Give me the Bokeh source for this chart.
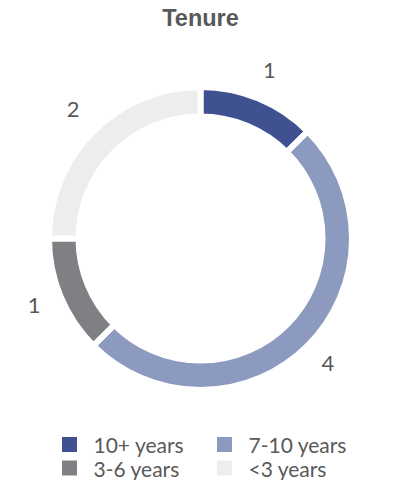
import math
from bokeh.plotting import figure
from bokeh.models import Range1d, ColumnDataSource
from bokeh.core.properties import value
from bokeh.embed import file_html
from bokeh.resources import INLINE

categories = ["10+ years", "7-10 years", "3-6 years", "<3 years"]
counts = [1, 4, 1, 2]
colors = ["#3F5190", "#8D9ABF", "#7F8083", "#EDEDED"]
title_text = "Tenure"

W, H = 402, 480
cx, cy = 200, 242
r_in, r_out, gap = 125, 148.5, 6
label_r = 180
grey = "#595959"
font = value("Lato")

total = sum(counts)
starts, ends, mids = [], [], []
acc = 0
for c in counts:
    a0 = math.pi / 2 - 2 * math.pi * (acc + c) / total
    a1 = math.pi / 2 - 2 * math.pi * acc / total
    starts.append(a0)
    ends.append(a1)
    mids.append((a0 + a1) / 2)
    acc += c

src = ColumnDataSource(dict(
    start=starts, end=ends, color=colors, cat=categories,
    lx=[cx + label_r * math.cos(m) for m in mids],
    ly=[cy + 2 + label_r * math.sin(m) for m in mids],
    lab=[str(c) for c in counts],
))

p = figure(width=W, height=H, output_backend="svg", toolbar_location=None,
           x_range=Range1d(0, W), y_range=Range1d(0, H),
           x_axis_location=None, y_axis_location=None, min_border=0)
p.grid.visible = False
p.outline_line_color = None
p.background_fill_color = "white"

p.annular_wedge(x=cx, y=cy, inner_radius=r_in - gap / 2, outer_radius=r_out + gap / 2,
                start_angle="start", end_angle="end", fill_color="color",
                line_color="white", line_width=gap, source=src)

p.text(x="lx", y="ly", text="lab", source=src, text_font=font,
       text_font_size="22px", text_color=grey, text_align="center",
       text_baseline="middle")

p.text(x=[200], y=[463], text=[title_text], text_font=value("Liberation Sans"),
       text_font_size="23.5px", text_font_style="bold", text_color=grey,
       text_align="center", text_baseline="middle")

# legend (two columns)
col_x = [69, 224]
row_y = [36, 12.5]
lg = ColumnDataSource(dict(
    sx=[col_x[i % 2] for i in range(len(categories))],
    sy=[row_y[i // 2] for i in range(len(categories))],
    tx=[col_x[i % 2] + 24 for i in range(len(categories))],
    cat=categories, color=colors,
))
p.scatter(x="sx", y="sy", marker="square", size=15, fill_color="color",
          line_color=None, source=lg)
p.text(x="tx", y="sy", text="cat", source=lg, text_font=font,
       text_font_size="21px", text_color=grey, text_align="left",
       text_baseline="middle")

open("out.html", "w").write(file_html(p, INLINE))
